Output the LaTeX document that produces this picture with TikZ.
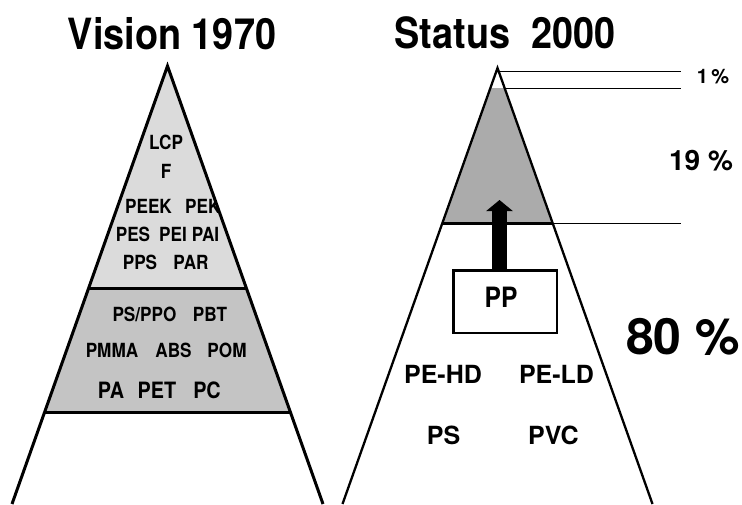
\documentclass[tikz,border=0pt]{standalone}
\usepackage{fontspec}
\setmainfont{TeX Gyre Heros}[FakeStretch=0.88]
\newfontfamily\widefont{TeX Gyre Heros}
\usetikzlibrary{arrows.meta}

\definecolor{bandlight}{gray}{0.86}
\definecolor{bandmid}{gray}{0.77}
\definecolor{bandtop}{gray}{0.67}

\tikzset{
  side/.style={line width=3pt, line join=miter},
  split/.style={line width=3pt},
  guide/.style={line width=1pt},
  poly/.style={anchor=base, inner sep=0pt, font=\bfseries\fontsize{19.5}{20}\selectfont},
  polybig/.style={poly, font=\widefont\bfseries\fontsize{25}{26}\selectfont},
  share/.style={anchor=base, inner sep=0pt},
  headline/.style={anchor=base, inner sep=0pt, font=\bfseries\fontsize{43}{44}\selectfont}
}

\begin{document}
\begin{tikzpicture}[x=1pt, y=1pt]
  \useasboundingbox (0,0) rectangle (742,-504);

  %%%%% titles %%%%%
  \node[headline] (vision) at (172,-49) {Vision 1970};
  \node[headline] (status) at (505,-48) {Status~~2000};

  %%%%% left pyramid %%%%%
  \coordinate (lt) at (167.5,-66);
  \coordinate (ll) at (12,-504);
  \coordinate (lr) at (323,-504);

  \fill[bandlight] (lt) -- (89,-288) -- (246,-288) -- cycle;
  \fill[bandmid] (89,-288) -- (45,-412) -- (290,-412) -- (246,-288) -- cycle;

  \begin{scope}
    \clip (lt) -- (ll) -- (lr) -- cycle;
    \node[poly] (lcp) at (166,-149) {LCP};
    \node[poly] (f) at (166,-178) {F};
    \node[poly] (peek) at (148.5,-213) {PEEK};
    \node[poly, anchor=base west] (pek) at (185,-213) {PEK};
    \node[poly] (pes) at (133,-241) {PES};
    \node[poly] (pei) at (173,-241) {PEI};
    \node[poly] (pai) at (205.5,-241) {PAI};
    \node[poly] (pps) at (140,-269) {PPS};
    \node[poly] (par) at (191,-269) {PAR};
  \end{scope}

  \node[poly] (psppo) at (144.5,-321) {PS/PPO};
  \node[poly] (pbt) at (210,-321) {PBT};
  \node[poly] (pmma) at (112,-357) {PMMA};
  \node[poly] (abs) at (173.5,-357) {ABS};
  \node[poly] (pom) at (227,-357) {POM};
  \node[poly, font=\bfseries\fontsize{22.5}{23}\selectfont] (pa) at (111,-398) {PA};
  \node[poly, font=\bfseries\fontsize{22.5}{23}\selectfont] (pet) at (157,-398) {PET};
  \node[poly, font=\bfseries\fontsize{22.5}{23}\selectfont] (pc) at (207,-398) {PC};

  \draw[split] (89,-288) -- (246,-288);
  \draw[split] (45,-412) -- (290,-412);
  \draw[side] (ll) -- (lt) -- (lr);

  %%%%% right pyramid %%%%%
  \coordinate (rt) at (497.5,-68);
  \coordinate (rl) at (342.5,-504);
  \coordinate (rr) at (652.5,-504);

  \fill[bandtop] (490.4,-88) -- (442.5,-223) -- (552.5,-223) -- (504.6,-88) -- cycle;

  \draw[guide] (497.5,-71) -- (681,-71);
  \draw[guide] (504.6,-88) -- (681,-88);
  \draw[guide] (552.5,-223) -- (681,-223);
  \draw[split] (442.5,-223) -- (552.5,-223);
  \draw[line width=2.3pt, line join=miter] (rl) -- (rt) -- (rr);

  \node[draw, line width=2.5pt, minimum width=103.5pt, minimum height=62.5pt,
        inner sep=0pt] (pp) at (505,-301.5) {};
  \node[poly, font=\bfseries\fontsize{28}{29}\selectfont] (pplabel) at (501,-307) {PP};
  \draw[line width=15pt, -{Triangle[width=26pt,length=11pt]}]
    ([xshift=-5.5pt]pp.north) -- (499.5,-200);

  \node[polybig] (pehd) at (443,-383) {PE-HD};
  \node[polybig] (peld) at (556.5,-383) {PE-LD};
  \node[polybig] (ps) at (443.5,-444) {PS};
  \node[polybig] (pvc) at (553.5,-444) {PVC};

  %%%%% shares %%%%%
  \node[share, font=\widefont\bfseries\fontsize{20}{21}\selectfont] (one) at (713,-83) {1\,\%};
  \node[share, font=\widefont\bfseries\fontsize{28}{29}\selectfont] (nineteen) at (701,-170) {19~\%};
  \node[share, font=\widefont\bfseries\fontsize{50}{51}\selectfont] (eighty) at (683,-354) {80~\%};
\end{tikzpicture}
\end{document}
